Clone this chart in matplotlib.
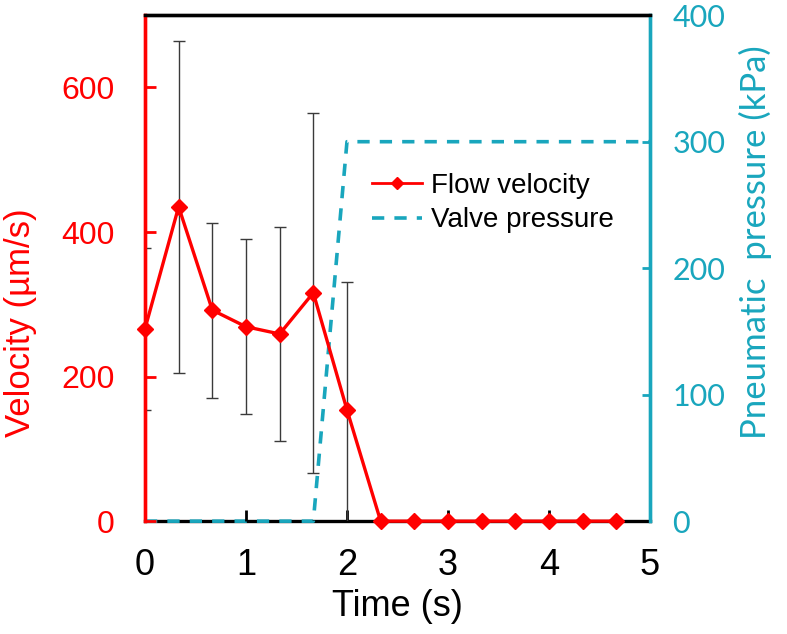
import numpy as np
import matplotlib
matplotlib.use("Agg")
from matplotlib import pyplot as plt

# data
time_s = np.arange(15) / 3.0
velocity = [266, 435, 292, 269, 259, 316, 154, 0, 0, 0, 0, 0, 0, 0, 0]
velocity_err = [112, 230, 121, 121, 148, 249, 177, 0, 0, 0, 0, 0, 0, 0, 0]

valve_time = [0, 1.667, 2.0, 5.0]
valve_pressure = [0, 0, 300, 300]

x_ticks = [0, 1, 2, 3, 4, 5]
v_ticks = [0, 200, 400, 600]
p_ticks = [0, 100, 200, 300, 400]

RED = "#ff0000"
TEAL = "#19a6bd"
ARIAL = ["Liberation Sans", "DejaVu Sans"]
SOFT = ["Lato", "Open Sans", "DejaVu Sans"]

fig = plt.figure(figsize=(7.87, 6.34), dpi=100)
ax = fig.add_axes([0.1842, 0.178, 0.6417, 0.798])
ax2 = ax.twinx()

# pressure on the twin axis, drawn below the velocity axis
ax2.plot(valve_time, valve_pressure, color=TEAL, lw=2.6, clip_on=False, zorder=4,
         linestyle=(0, (3.4, 2.8)), label="Valve pressure")
ax2.set_ylim(0, 400)
ax2.set_yticks(p_ticks)
ax2.set_yticklabels([str(t) for t in p_ticks], family=SOFT, fontsize=22, color=TEAL)
ax2.tick_params(axis="y", direction="in", length=6, width=2, color=TEAL, pad=16)
ax2.set_ylabel("Pneumatic  pressure (kPa)", family=SOFT, fontsize=25, color=TEAL)
ax2.yaxis.set_label_coords(1.176, 0.551)

ax.set_zorder(ax2.get_zorder() + 1)
ax.patch.set_visible(False)
ax.spines["bottom"].set_visible(False)

ax.errorbar(time_s[:7], velocity[:7], yerr=velocity_err[:7], fmt="none",
            ecolor="#3a3a3a", elinewidth=1, capsize=4, capthick=1)
ax.plot(time_s, velocity, color=RED, lw=2.4, marker="D", markersize=8,
        clip_on=False, zorder=5, label="Flow velocity")

ax.set_xlim(0, 5)
ax.set_ylim(0, 700)
ax.set_xticks(x_ticks)
ax.set_xticklabels([str(t) for t in x_ticks], family=ARIAL, fontsize=26)
ax.set_yticks(v_ticks)
ax.set_yticklabels([str(t) for t in v_ticks], family=ARIAL, fontsize=23, color=RED)
ax.tick_params(axis="x", direction="in", length=8, width=2, color="black", pad=19)
ax.tick_params(axis="y", direction="in", length=8, width=2, color=RED, pad=22)
ax.set_xlabel("Time (s)", family=ARIAL, fontsize=26, labelpad=5)
ax.set_ylabel("Velocity (\u00b5m/s)", family=ARIAL, fontsize=25, color=RED)
ax.yaxis.set_label_coords(-0.214, 0.393)

for a in (ax, ax2):
    a.spines["top"].set_color("black")
    a.spines["bottom"].set_color("black")
    a.spines["left"].set_color(RED)
    a.spines["right"].set_color(TEAL)
    for s in a.spines.values():
        s.set_linewidth(2.4)

h1, l1 = ax.get_legend_handles_labels()
h2, l2 = ax2.get_legend_handles_labels()
leg = ax.legend(h1 + h2, l1 + l2, loc="upper left", bbox_to_anchor=(0.428, 0.71),
                frameon=False, prop={"family": ARIAL, "size": 20},
                handlelength=1.8, handletextpad=0.3, labelspacing=0.3,
                borderaxespad=0)
leg.legend_handles[0].set_markersize(6)
leg.legend_handles[0].set_linewidth(2)

fig.savefig("out.png", dpi=100)
